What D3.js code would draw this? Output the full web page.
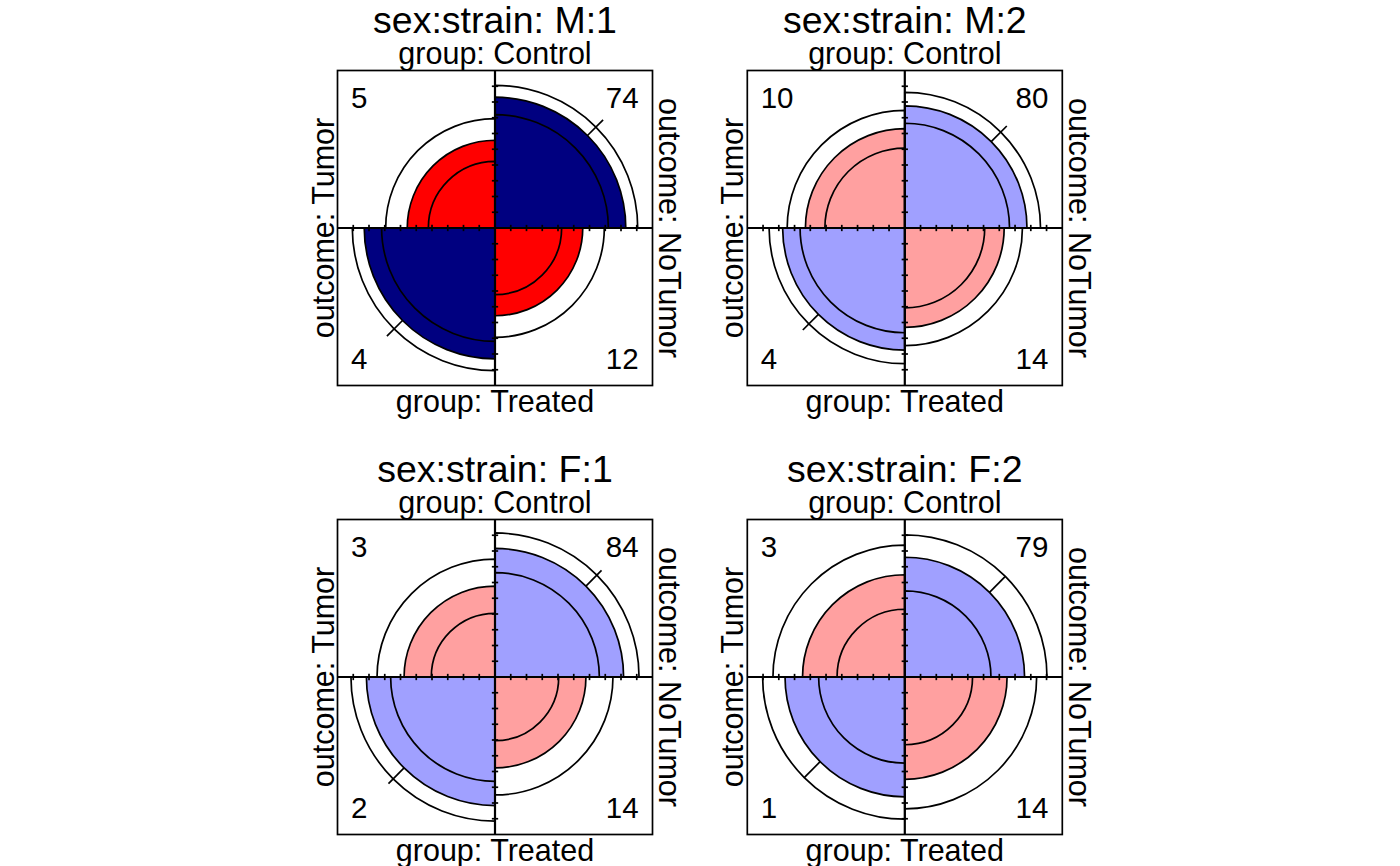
<!DOCTYPE html>
<html><head><meta charset="utf-8">
<script src="https://cdn.jsdelivr.net/npm/d3@7"></script>
<style>
body{margin:0;background:#fff}
text{font-family:"Liberation Sans",Arial,Helvetica,sans-serif;fill:#000}
</style>
</head><body>
<svg id="chart" width="1400" height="866"></svg>
<script>
// ---- data ----
const strataName = "sex:strain";
const strata = ["M:1", "M:2", "F:1", "F:2"];
const rowName = "group";
const rowLevels = ["Control", "Treated"];
const colName = "outcome";
const colLevels = ["Tumor", "NoTumor"];
const controlTumor   = [5, 10, 3, 3];
const controlNoTumor = [74, 80, 84, 79];
const treatedTumor   = [4, 4, 2, 1];
const treatedNoTumor = [12, 14, 14, 14];
const confLevel = 0.95;
const axisTicks = d3.range(-9, 10).filter(k => k !== 0).map(k => k / 10);

// ---- styles / layout ----
const colSig = { diag: "#FF0000", off: "#000080" };
const colNonSig = { diag: "#FFA0A0", off: "#A0A0FF" };
const half = 157.5;
const centersX = [495, 904.8];
const centersY = [228, 677];
const lw = 1.7;

const svg = d3.select("#chart");

// standard normal quantile
function qnorm(p) {
  const a=[-3.969683028665376e+01,2.209460984245205e+02,-2.759285104469687e+02,1.383577518672690e+02,-3.066479806614716e+01,2.506628277459239e+00];
  const b=[-5.447609879822406e+01,1.615858368580409e+02,-1.556989798598866e+02,6.680131188771972e+01,-1.328068155288572e+01];
  const c=[-7.784894002430293e-03,-3.223964580411365e-01,-2.400758277161838e+00,-2.549732539343734e+00,4.374664141464968e+00,2.938163982698783e+00];
  const d=[7.784695709041462e-03,3.224671290700398e-01,2.445134137142996e+00,3.754408661907416e+00];
  const pl=0.02425;
  let q,r;
  if(p<pl){q=Math.sqrt(-2*Math.log(p));return (((((c[0]*q+c[1])*q+c[2])*q+c[3])*q+c[4])*q+c[5])/((((d[0]*q+d[1])*q+d[2])*q+d[3])*q+1);}
  if(p<=1-pl){q=p-0.5;r=q*q;return (((((a[0]*r+a[1])*r+a[2])*r+a[3])*r+a[4])*r+a[5])*q/(((((b[0]*r+b[1])*r+b[2])*r+b[3])*r+b[4])*r+1);}
  q=Math.sqrt(-2*Math.log(1-p));return -(((((c[0]*q+c[1])*q+c[2])*q+c[3])*q+c[4])*q+c[5])/((((d[0]*q+d[1])*q+d[2])*q+d[3])*q+1);
}
const z = qnorm(1 - (1 - confLevel) / 2);
const uOf = th => Math.sqrt(th) / (1 + Math.sqrt(th));

// quadrant angles for d3.arc (clockwise from 12 o'clock)
const quad = {
  TL: [-Math.PI / 2, 0],
  TR: [0, Math.PI / 2],
  BR: [Math.PI / 2, Math.PI],
  BL: [Math.PI, 1.5 * Math.PI]
};
const diagQ = ["TL", "BR"];

strata.forEach((s, i) => {
  const cx = centersX[i % 2], cy = centersY[Math.floor(i / 2)];
  const x = d3.scaleLinear().domain([-1, 1]).range([cx - half, cx + half]);
  const y = d3.scaleLinear().domain([-1, 1]).range([cy + half, cy - half]);
  const r = d3.scaleLinear().domain([0, 1]).range([0, half]);

  let a = controlTumor[i], b = controlNoTumor[i], c = treatedTumor[i], d = treatedNoTumor[i];
  if ([a, b, c, d].some(v => v === 0)) { a += .5; b += .5; c += .5; d += .5; }
  const or = (a * d) / (b * c);
  const se = Math.sqrt(1 / a + 1 / b + 1 / c + 1 / d);
  const lo = or * Math.exp(-z * se), hi = or * Math.exp(z * se);
  const sig = hi < 1 || lo > 1;
  const cols = sig ? colSig : colNonSig;
  const u = uOf(or), uLo = uOf(lo), uHi = uOf(hi);
  const fit = { TL: u, BR: u, TR: 1 - u, BL: 1 - u };

  const g = svg.append("g").attr("transform", `translate(${cx},${cy})`);
  const arc = d3.arc().innerRadius(0);

  // filled quadrants
  Object.keys(quad).forEach(q => {
    g.append("path")
      .attr("d", arc({ outerRadius: r(Math.sqrt(fit[q])), startAngle: quad[q][0], endAngle: quad[q][1] }))
      .attr("fill", diagQ.includes(q) ? cols.diag : cols.off)
      .attr("stroke", "#000").attr("stroke-width", lw);
  });
  // confidence rings
  [uLo, uHi].forEach(uu => {
    const f = { TL: uu, BR: uu, TR: 1 - uu, BL: 1 - uu };
    Object.keys(quad).forEach(q => {
      g.append("path")
        .attr("d", arc({ outerRadius: r(Math.sqrt(f[q])), startAngle: quad[q][0], endAngle: quad[q][1] }))
        .attr("fill", "none")
        .attr("stroke", "#000").attr("stroke-width", lw);
    });
  });

  // box
  svg.append("rect")
    .attr("x", x(-1)).attr("y", y(1))
    .attr("width", x(1) - x(-1)).attr("height", y(-1) - y(1))
    .attr("fill", "none").attr("stroke", "#000").attr("stroke-width", lw);
  // axes
  svg.append("line").attr("x1", x(-1)).attr("x2", x(1)).attr("y1", y(0)).attr("y2", y(0))
    .attr("stroke", "#000").attr("stroke-width", lw + 0.5);
  svg.append("line").attr("x1", x(0)).attr("x2", x(0)).attr("y1", y(-1)).attr("y2", y(1))
    .attr("stroke", "#000").attr("stroke-width", lw + 0.5);
  axisTicks.forEach(t => {
    svg.append("line").attr("x1", x(t)).attr("x2", x(t)).attr("y1", y(-0.02)).attr("y2", y(0.02))
      .attr("stroke", "#000").attr("stroke-width", lw);
    svg.append("line").attr("x1", x(-0.02)).attr("x2", x(0.02)).attr("y1", y(t)).attr("y2", y(t))
      .attr("stroke", "#000").attr("stroke-width", lw);
  });

  // direction ticks at 45 degrees in the larger diagonal
  const tickQ = u < 0.5 ? [["TR", 45], ["BL", 225]] : [["TL", 135], ["BR", 315]];
  tickQ.forEach(([q, deg]) => {
    const rad = deg * Math.PI / 180;
    const r0 = Math.sqrt(fit[q]), r1 = r0 + 0.14;
    svg.append("line")
      .attr("x1", x(r0 * Math.cos(rad))).attr("y1", y(r0 * Math.sin(rad)))
      .attr("x2", x(r1 * Math.cos(rad))).attr("y2", y(r1 * Math.sin(rad)))
      .attr("stroke", "#000").attr("stroke-width", lw);
  });

  // counts
  const cnt = [
    [controlTumor[i], x(-0.915), y(0.759), "start"],
    [controlNoTumor[i], x(0.912), y(0.759), "end"],
    [treatedTumor[i], x(-0.915), y(-0.898), "start"],
    [treatedNoTumor[i], x(0.912), y(-0.898), "end"]
  ];
  cnt.forEach(([v, tx, ty, anc]) => {
    svg.append("text").attr("x", tx).attr("y", ty).attr("text-anchor", anc)
      .attr("font-size", 29.5).text(v);
  });

  // labels
  svg.append("text").attr("x", cx).attr("y", cy - 195).attr("text-anchor", "middle")
    .attr("font-size", 37.5).text(`${strataName}: ${s}`);
  svg.append("text").attr("x", cx).attr("y", cy - 164).attr("text-anchor", "middle")
    .attr("font-size", 30.5).text(`${rowName}: ${rowLevels[0]}`);
  svg.append("text").attr("x", cx).attr("y", cy + 184).attr("text-anchor", "middle")
    .attr("font-size", 30.5).text(`${rowName}: ${rowLevels[1]}`);
  svg.append("text").attr("transform", `translate(${cx - 161.5},${cy}) rotate(-90)`)
    .attr("text-anchor", "middle").attr("font-size", 30.5).text(`${colName}: ${colLevels[0]}`);
  svg.append("text").attr("transform", `translate(${cx + 164},${cy}) rotate(90)`)
    .attr("text-anchor", "middle").attr("font-size", 30.5).text(`${colName}: ${colLevels[1]}`);
});
</script>
</body></html>
